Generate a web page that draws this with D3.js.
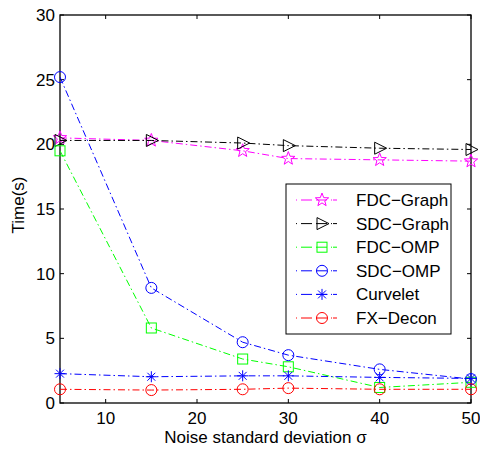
<!DOCTYPE html>
<html>
<head>
<meta charset="utf-8">
<script src="https://cdnjs.cloudflare.com/ajax/libs/d3/7.8.5/d3.min.js"></script>
<style>
  body { margin: 0; background: #fff; }
  svg text { font-family: "Liberation Sans", Arial, Helvetica, sans-serif; }
</style>
</head>
<body>
<div id="chart"></div>
<script>
// noise levels
const sigma = [5, 15, 25, 30, 40, 50];

const fdcGraph = [20.5, 20.3, 19.5, 18.9, 18.8, 18.7];
const sdcGraph = [20.3, 20.3, 20.1, 19.9, 19.7, 19.6];
const fdcOmp   = [19.5, 5.8, 3.4, 2.8, 1.2, 1.6];
const sdcOmp   = [25.2, 8.9, 4.7, 3.7, 2.6, 1.85];
const curvelet = [2.27, 2.03, 2.1, 2.1, 1.98, 1.9];
const fxDecon  = [1.06, 1.0, 1.06, 1.15, 1.06, 1.06];

const xTicks = [10, 20, 30, 40, 50];
const yTicks = [0, 5, 10, 15, 20, 25, 30];

const series = [
  {name: "FDC\u2212Graph", values: fdcGraph, color: "#ff00ff", marker: "star"},
  {name: "SDC\u2212Graph", values: sdcGraph, color: "#000000", marker: "tri"},
  {name: "FDC\u2212OMP", values: fdcOmp, color: "#00ff00", marker: "square"},
  {name: "SDC\u2212OMP", values: sdcOmp, color: "#0000ff", marker: "circle"},
  {name: "Curvelet", values: curvelet, color: "#0000ff", marker: "asterisk"},
  {name: "FX\u2212Decon", values: fxDecon, color: "#ff0000", marker: "circle"}
];

const W = 480, H = 451;
const margin = {left: 60, top: 15, right: 9, bottom: 48};
const pw = W - margin.left - margin.right;
const ph = H - margin.top - margin.bottom;
const fs = "17px";

const svg = d3.select("#chart").append("svg")
  .attr("width", W)
  .attr("height", H);

const x = d3.scaleLinear().domain([5, 50]).range([margin.left, margin.left + pw]);
const y = d3.scaleLinear().domain([0, 30]).range([margin.top + ph, margin.top]);

// frame
svg.append("rect")
  .attr("x", margin.left).attr("y", margin.top)
  .attr("width", pw).attr("height", ph)
  .style("fill", "none").style("stroke", "#000").style("stroke-width", 1.3);

const tickLen = 4;
// inner ticks on all four sides
const tg = svg.append("g").style("stroke", "#000").style("stroke-width", 1);
xTicks.forEach(t => {
  tg.append("line").attr("x1", x(t)).attr("x2", x(t)).attr("y1", y(0)).attr("y2", y(0) - tickLen);
  tg.append("line").attr("x1", x(t)).attr("x2", x(t)).attr("y1", y(30)).attr("y2", y(30) + tickLen);
});
yTicks.forEach(t => {
  tg.append("line").attr("x1", x(5)).attr("x2", x(5) + tickLen).attr("y1", y(t)).attr("y2", y(t));
  tg.append("line").attr("x1", x(50)).attr("x2", x(50) - tickLen).attr("y1", y(t)).attr("y2", y(t));
});

svg.selectAll("text.xt").data(xTicks).enter().append("text")
  .attr("class", "xt")
  .attr("x", d => x(d)).attr("y", y(0) + 21)
  .attr("text-anchor", "middle")
  .style("font-size", fs)
  .text(d => d);

svg.selectAll("text.yt").data(yTicks).enter().append("text")
  .attr("class", "yt")
  .attr("x", margin.left - 5).attr("y", d => y(d) + 6)
  .attr("text-anchor", "end")
  .style("font-size", fs)
  .text(d => d);

svg.append("text")
  .attr("x", margin.left + pw / 2).attr("y", 443)
  .attr("text-anchor", "middle")
  .style("font-size", fs)
  .text("Noise standard deviation \u03c3");

svg.append("text")
  .attr("transform", "translate(24," + (margin.top + ph / 2 - 4) + ") rotate(-90)")
  .attr("text-anchor", "middle")
  .style("font-size", fs)
  .text("Time(s)");

function drawMarker(g, type, cx, cy, color) {
  let el;
  if (type === "circle") {
    el = g.append("circle").attr("cx", cx).attr("cy", cy).attr("r", 5.5);
  } else if (type === "square") {
    el = g.append("rect").attr("x", cx - 5).attr("y", cy - 5).attr("width", 10).attr("height", 10);
  } else if (type === "tri") {
    el = g.append("path").attr("d", `M${cx - 5},${cy - 6}L${cx + 7},${cy}L${cx - 5},${cy + 6}Z`);
  } else if (type === "star") {
    const pts = [];
    for (let i = 0; i < 10; i++) {
      const r = i % 2 === 0 ? 7 : 2.9;
      const a = -Math.PI / 2 + i * Math.PI / 5;
      pts.push([cx + r * Math.cos(a), cy + r * Math.sin(a)]);
    }
    el = g.append("path").attr("d", "M" + pts.join("L") + "Z");
  } else if (type === "asterisk") {
    const r = 5.5;
    let d = `M${cx},${cy - r}L${cx},${cy + r}M${cx - r},${cy}L${cx + r},${cy}`;
    const q = r * 0.72;
    d += `M${cx - q},${cy - q}L${cx + q},${cy + q}M${cx - q},${cy + q}L${cx + q},${cy - q}`;
    el = g.append("path").attr("d", d);
  }
  el.style("fill", "none").style("stroke", color).style("stroke-width", 1);
}

const line = d3.line().x(d => x(d[0])).y(d => y(d[1]));
const dash = "7,3,1.5,3";

series.forEach(sr => {
  const pts = sigma.map((s, i) => [s, sr.values[i]]);
  const g = svg.append("g");
  g.append("path")
    .datum(pts)
    .attr("d", line)
    .style("fill", "none")
    .style("stroke", sr.color)
    .style("stroke-width", 1)
    .style("stroke-dasharray", dash);
  pts.forEach(p => drawMarker(g, sr.marker, x(p[0]), y(p[1]), sr.color));
});

// legend
const lg = svg.append("g");
const lx = 286, ly = 184, lw = 165, lh = 150;
lg.append("rect")
  .attr("x", lx).attr("y", ly).attr("width", lw).attr("height", lh)
  .style("fill", "#fff").style("stroke", "#000").style("stroke-width", 1);
series.forEach((sr, i) => {
  const yy = ly + 16 + i * 23.6;
  lg.append("line")
    .attr("x1", lx + 10).attr("x2", lx + 62)
    .attr("y1", yy).attr("y2", yy)
    .style("stroke", sr.color).style("stroke-width", 1)
    .style("stroke-dasharray", "1,4,11,4,11,4,1");
  drawMarker(lg, sr.marker, lx + 36, yy, sr.color);
  lg.append("text")
    .attr("x", lx + 70).attr("y", yy + 6)
    .style("font-size", fs)
    .text(sr.name);
});
</script>
</body>
</html>
